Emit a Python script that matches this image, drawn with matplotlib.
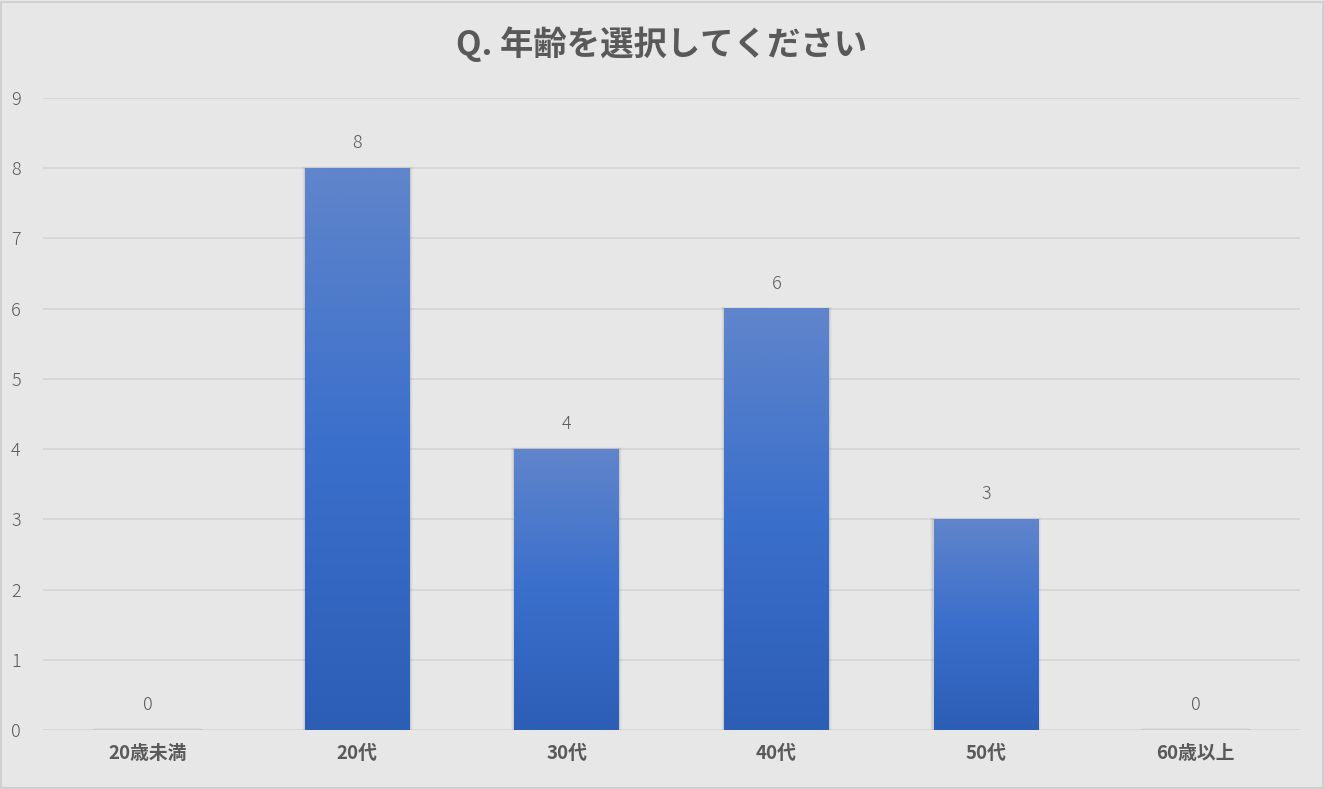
import numpy as np
import matplotlib.pyplot as plt
from matplotlib.colors import LinearSegmentedColormap
from matplotlib.patches import Rectangle

plt.rcParams['font.family'] = ['Noto Sans CJK JP', 'DejaVu Sans']

# Data
categories = ['20歳未満', '20代', '30代', '40代', '50代', '60歳以上']
counts = [0, 8, 4, 6, 3, 0]
title = 'Q. 年齢を選択してください'

BG = '#e7e7e7'
TEXT = '#595959'
GRID = '#d6d6d6'
BAR_W = 0.5

fig = plt.figure(figsize=(13.24, 7.89), dpi=100, facecolor=BG)
ax = fig.add_axes([0.0325, 0.0748, 0.9495, 0.801])
ax.set_facecolor(BG)

# figure border
fig.patches.append(Rectangle((0.001, 0.001), 0.998, 0.997, transform=fig.transFigure,
                             fill=False, edgecolor='#d0d0d0', linewidth=1.5))

x = np.arange(len(categories))
ax.set_yticks(range(10))
ax.yaxis.grid(True, color=GRID, linewidth=1.3)
ax.set_axisbelow(True)
for s in ax.spines.values():
    s.set_visible(False)
ax.tick_params(length=0)
ax.tick_params(axis='y', pad=16, labelsize=13, labelcolor=TEXT)
ax.tick_params(axis='x', pad=10, labelsize=13.5, labelcolor=TEXT)
ax.set_xticks(x)
ax.set_xticklabels(categories, fontweight='bold')
for lab in ax.get_yticklabels():
    lab.set_fontweight('light')

cmap = LinearSegmentedColormap.from_list('bar', ['#2d5eb6', '#3a6fcb', '#6085cb'])
grad = np.linspace(0, 1, 256).reshape(-1, 1)

for xi, h in zip(x, counts):
    # soft shadow on the sides
    for k, a in enumerate([0.06, 0.035, 0.02]):
        d = 0.005 * (k + 1)
        ax.add_patch(Rectangle((xi - BAR_W / 2 - d, 0), BAR_W + 2 * d, h + d * 2,
                               facecolor='#000000', alpha=a, edgecolor='none', zorder=2))
    if h > 0:
        ax.imshow(grad, cmap=cmap, origin='lower', aspect='auto', zorder=3,
                  extent=[xi - BAR_W / 2, xi + BAR_W / 2, 0, h], interpolation='bilinear')
    else:
        ax.add_patch(Rectangle((xi - BAR_W / 2, 0), BAR_W, 0.03, facecolor='#dcdcdc',
                               edgecolor='none', alpha=0.5, zorder=2))
    ax.text(xi, h + 0.23, str(h), ha='center', va='bottom', fontsize=13,
            color=TEXT, fontweight='light', zorder=4)

ax.set_xlim(-0.5, len(categories) - 0.5)
ax.set_ylim(0, 9)

fig.text(0.5, 0.944, title, ha='center', va='center', fontsize=24,
         fontweight='bold', color=TEXT)

fig.savefig('out.png', dpi=100, facecolor=BG)
